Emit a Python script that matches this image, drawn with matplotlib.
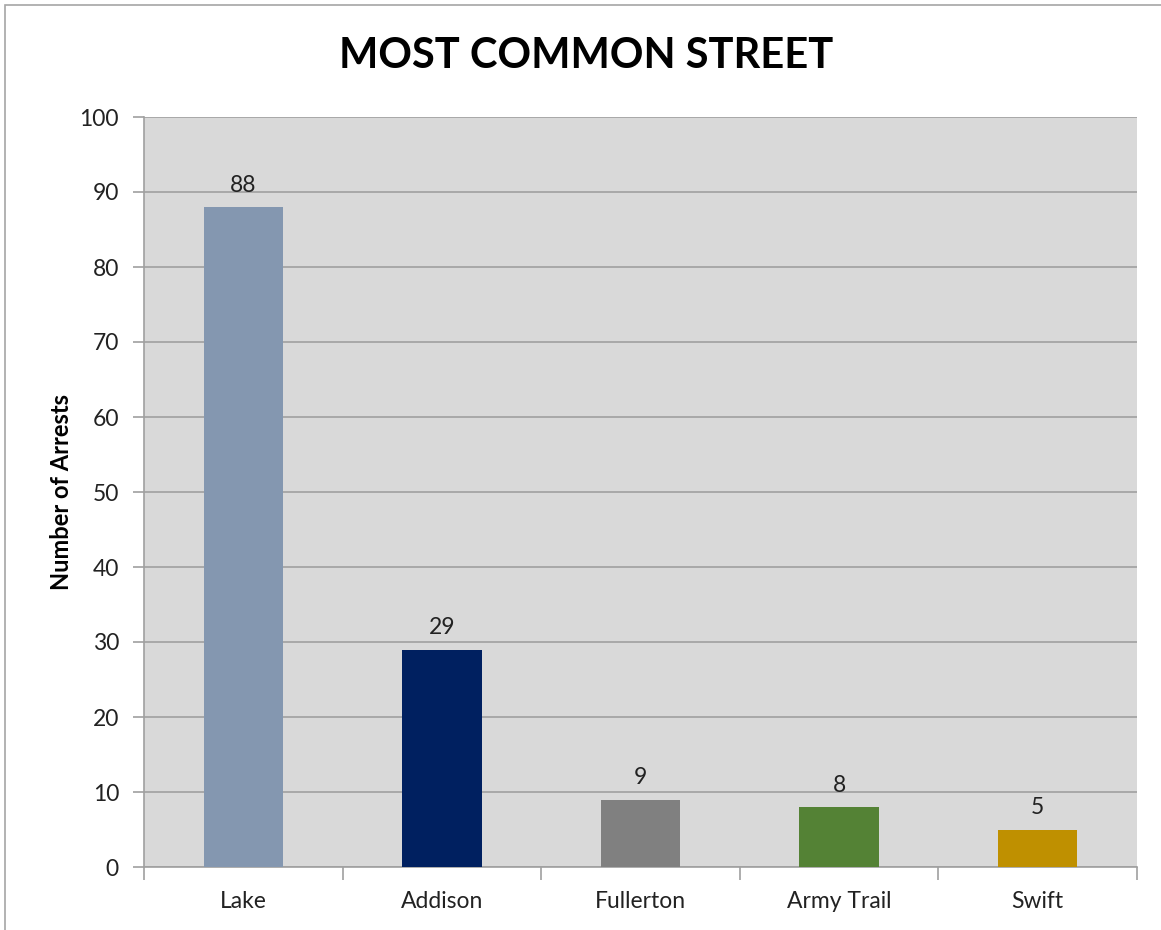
import matplotlib.pyplot as plt
from matplotlib.patches import Rectangle

# data
streets = ['Lake', 'Addison', 'Fullerton', 'Army Trail', 'Swift']
arrests = [88, 29, 9, 8, 5]
bar_colors = ['#8497B0', '#002060', '#808080', '#548235', '#BF9000']

plt.rcParams['font.family'] = ['Lato', 'DejaVu Sans']

fig = plt.figure(figsize=(11.61, 9.30), dpi=100)
ax = fig.add_axes([144 / 1161, 1 - 867 / 930, (1137 - 144) / 1161, (867 - 117) / 930])

# outer chart border (only left and top visible in the original)
fig.patches.append(Rectangle((5 / 1161, -0.1), 1.2, 1 - 5 / 930 + 0.1,
                             transform=fig.transFigure, fill=False,
                             edgecolor='#A6A6A6', linewidth=1.2))

ax.set_facecolor('#D9D9D9')
x = range(len(streets))
bars = ax.bar(x, arrests, width=0.4, color=bar_colors, zorder=3)
for b, v in zip(bars, arrests):
    ax.text(b.get_x() + b.get_width() / 2, v + 1.5, str(v), ha='center', va='bottom',
            fontsize=16.5, color='#222222', zorder=4)

ax.set_xlim(-0.5, len(streets) - 0.5)
ax.set_ylim(0, 100)
ax.set_yticks(range(0, 101, 10))
ax.yaxis.grid(True, color='#A0A0A0', linewidth=1.2, zorder=1)
ax.set_axisbelow(True)

# category labels centered, tick marks between categories
ax.set_xticks([i - 0.5 for i in range(len(streets) + 1)])
ax.set_xticklabels([])
ax.set_xticks(list(x), minor=True)
ax.set_xticklabels(streets, minor=True, fontsize=16.5, color='#222222')
ax.tick_params(axis='x', which='major', length=9, color='#A0A0A0', width=1.2)
ax.tick_params(axis='x', which='minor', length=0, pad=17)
ax.tick_params(axis='y', length=8, color='#A0A0A0', width=1.2, labelsize=16.5,
               labelcolor='#222222', pad=10)

for s in ['top', 'right']:
    ax.spines[s].set_visible(False)
for s in ['left', 'bottom']:
    ax.spines[s].set_color('#A0A0A0')
    ax.spines[s].set_linewidth(1.2)

ax.set_ylabel('Number of Arrests', fontsize=17, fontweight='bold', labelpad=5)
fig.text(586 / 1161, 1 - 56 / 930, 'MOST COMMON STREET', ha='center', va='center',
         fontsize=30, fontweight='bold', color='#000000')

fig.savefig('out.png', dpi=100)
